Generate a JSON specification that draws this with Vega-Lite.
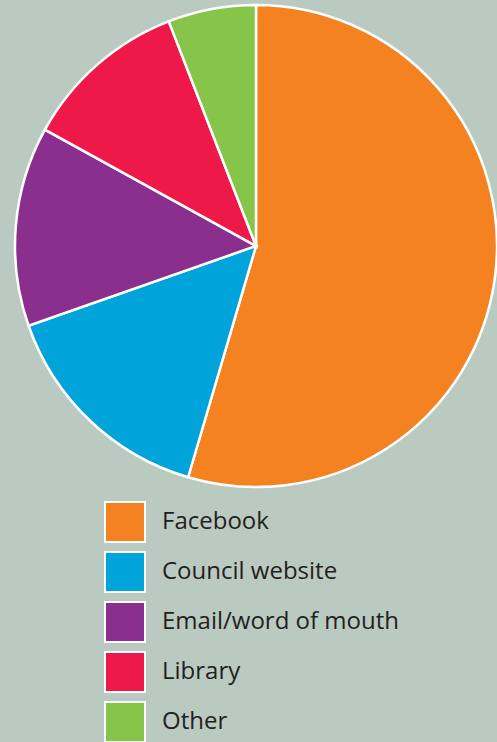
{
  "$schema": "https://vega.github.io/schema/vega-lite/v6.json",
  "autosize": "none",
  "width": 482,
  "height": 482,
  "padding": {"left": 15, "top": 5, "right": 0, "bottom": 255},
  "background": "#bbcac1",
  "config": {"view": {"stroke": null}, "font": "Open Sans"},
  "data": {
    "values": [
      {"source": "Facebook", "share": 54.6, "rank": 1},
      {"source": "Council website", "share": 15.1, "rank": 2},
      {"source": "Email/word of mouth", "share": 13.4, "rank": 3},
      {"source": "Library", "share": 11.1, "rank": 4},
      {"source": "Other", "share": 5.9, "rank": 5}
    ]
  },
  "mark": {"type": "arc", "stroke": "#ffffff", "strokeWidth": 2.5},
  "encoding": {
    "theta": {"field": "share", "type": "quantitative", "stack": true},
    "order": {"field": "rank", "type": "quantitative"},
    "color": {
      "field": "source",
      "type": "nominal",
      "scale": {
        "domain": ["Facebook", "Council website", "Email/word of mouth", "Library", "Other"],
        "range": ["#f58220", "#00a3da", "#8b2f8f", "#ee1849", "#86c44a"]
      },
      "legend": {
        "orient": "none",
        "legendX": 89,
        "legendY": 496,
        "title": null,
        "padding": 0,
        "symbolType": "square",
        "symbolSize": 1600,
        "symbolStrokeColor": "#ffffff",
        "symbolStrokeWidth": 2,
        "symbolOpacity": 1,
        "labelFontSize": 24,
        "labelColor": "#231f20",
        "labelFont": "Open Sans",
        "labelOffset": 16,
        "rowPadding": 2,
        "labelLimit": 400
      }
    }
  }
}
